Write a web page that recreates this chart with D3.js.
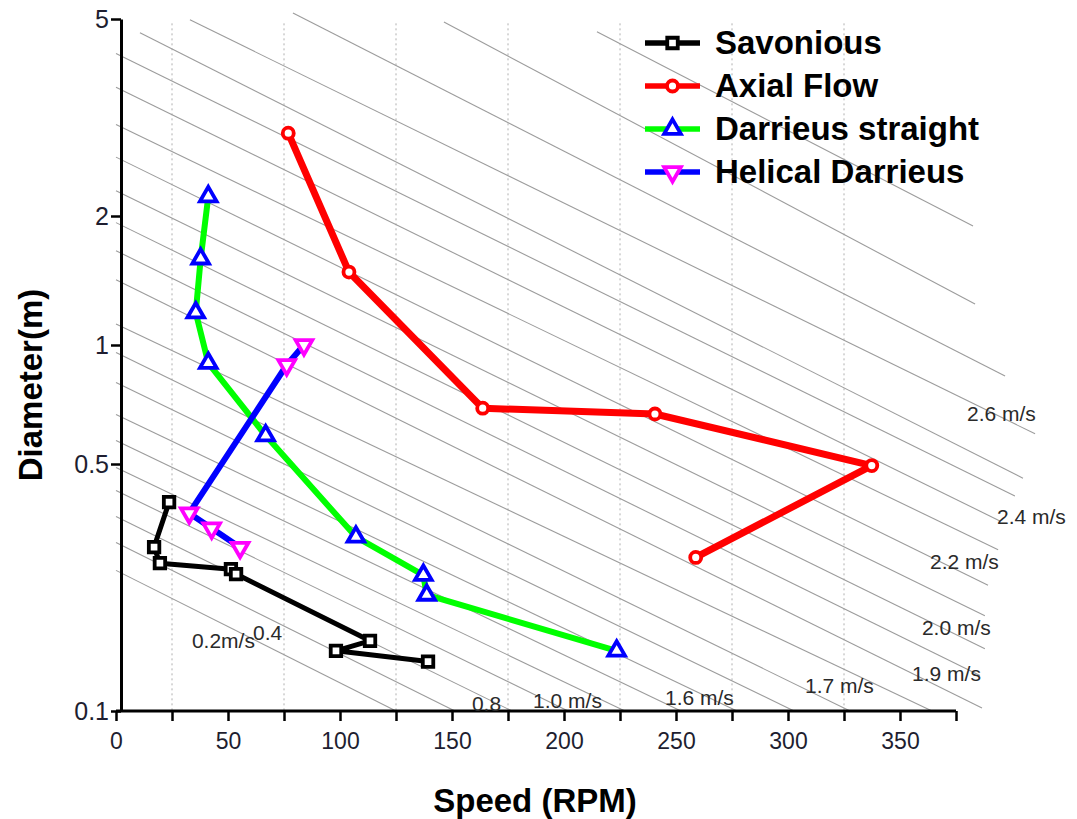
<!DOCTYPE html>
<html>
<head>
<meta charset="utf-8">
<script src="https://cdn.jsdelivr.net/npm/d3@7"></script>
<style>
body { margin: 0; background: #fff; }
text { font-family: "Liberation Sans", Arial, sans-serif; }
</style>
</head>
<body>
<div id="chart"></div>
<script>
// values: speed in RPM, diameter in m
var savRpm = [23.7, 17.0, 19.6, 51.3, 53.6, 113.4, 98.2, 139.3];
var savD   = [0.39, 0.291, 0.262, 0.252, 0.244, 0.158, 0.148, 0.138];

var axRpm = [76.9, 104.0, 163.7, 240.6, 337.4, 258.8];
var axD   = [2.94, 1.48, 0.692, 0.669, 0.495, 0.272];

var darRpm = [41.2, 37.8, 35.6, 41.2, 66.8, 107.1, 137.2, 138.7, 223.5];
var darD   = [2.19, 1.59, 1.19, 0.90, 0.59, 0.311, 0.2425, 0.213, 0.148];

var helRpm = [83.9, 76.2, 32.7, 42.7, 55.4];
var helD   = [1.0, 0.89, 0.363, 0.329, 0.29];

var seriesNames = ['Savonious', 'Axial Flow', 'Darrieus straight', 'Helical Darrieus'];

// background tip-speed guide lines: start [rpm, D] and end [rpm, D]
var guideFrom = [
    [10.7, 4.69], [33, 4.98], [79, 5.14], [146.4, 4.93], [214.7, 4.71],
    [0, 4.26], [0, 3.64], [0, 3.06], [0, 2.63], [0, 2.25], [0, 1.93],
    [0, 1.66], [0, 1.42], [0, 1.12], [0, 0.957], [0, 0.804], [0, 0.667],
    [0, 0.573], [0, 0.489], [0, 0.421], [0, 0.355], [0, 0.300], [0, 0.250]
];
var guideTo = [
    [404.9, 0.456], [410.3, 0.596], [396.9, 0.835], [383.5, 1.246], [382.6, 1.895],
    [401.3, 0.406], [394.6, 0.345], [393.8, 0.286], [389.3, 0.227], [387.9, 0.186], [387.9, 0.150],
    [385.7, 0.126], [386.6, 0.102], [364.3, 0.1], [327.7, 0.1], [302.7, 0.1], [277.2, 0.1],
    [252.2, 0.1], [227.2, 0.1], [201.8, 0.1], [176.8, 0.1], [151.3, 0.1], [125, 0.1]
];

var speedLabels = ['2.6 m/s', '2.4 m/s', '2.2 m/s', '2.0 m/s', '1.9 m/s', '1.7 m/s',
                   '1.6 m/s', '1.0 m/s', '0.8', '0.4', '0.2m/s'];
var speedLabelRpm = [379.9, 393.3, 363.4, 359.8, 355.4, 307.6, 245.1, 186.2, 158.9, 61.2, 33.9];
var speedLabelD   = [0.642, 0.338, 0.252, 0.164, 0.1216, 0.1124, 0.104, 0.102, 0.1, 0.159, 0.151];

var xTicks = d3.range(0, 376, 25);
var yTicks = [0.1, 0.5, 1, 2, 5];
var gridRpm = [25, 75, 125, 175, 225, 275, 325];

var width = 1077;
var height = 819;

var x = d3.scaleLinear().domain([0, 375]).range([116, 956]);
// the source y axis is log-like but its decades are not evenly spaced,
// so each labelled tick is pinned (piecewise log scale)
var y = d3.scaleLog().domain(yTicks).range([711, 464, 345, 216, 19]);

var svg = d3.select('#chart')
    .append('svg')
    .attr('width', width)
    .attr('height', height);

// dotted vertical grid
svg.append('g')
    .selectAll('line')
    .data(gridRpm)
    .enter()
    .append('line')
    .attr('x1', function(d){ return x(d); })
    .attr('x2', function(d){ return x(d); })
    .attr('y1', y(4.9))
    .attr('y2', y(0.1))
    .attr('stroke', '#b0b0b0')
    .attr('stroke-width', 1)
    .attr('stroke-dasharray', '2,3');

// diagonal guide lines
svg.append('g')
    .selectAll('line')
    .data(guideFrom)
    .enter()
    .append('line')
    .attr('x1', function(d){ return x(d[0]); })
    .attr('y1', function(d){ return y(d[1]); })
    .attr('x2', function(d, i){ return x(guideTo[i][0]); })
    .attr('y2', function(d, i){ return y(guideTo[i][1]); })
    .attr('stroke', '#9c9c9c')
    .attr('stroke-width', 1.1);

// axes
var axisX = x(0) + 5;

var yAxis = svg.append('g')
    .attr('transform', 'translate(' + axisX + ',0)')
    .call(d3.axisLeft(y).tickValues(yTicks).tickFormat(d3.format('')).tickSize(10).tickSizeOuter(0).tickPadding(3));

var xAxis = svg.append('g')
    .attr('transform', 'translate(0,' + y(0.1) + ')')
    .call(d3.axisBottom(x).tickValues(xTicks)
        .tickFormat(function(d){ return d % 50 === 0 ? d : ''; })
        .tickSize(10).tickSizeOuter(0).tickPadding(12));

[xAxis, yAxis].forEach(function(a){
    a.select('.domain').attr('stroke', '#000').attr('stroke-width', 3);
    a.selectAll('.tick line').attr('stroke', '#000').attr('stroke-width', 2.5);
    a.selectAll('.tick text').attr('fill', '#1e1e30');
});
xAxis.selectAll('.tick text').style('font-size', '23px');
yAxis.selectAll('.tick text').style('font-size', '25px').attr('x', -12);
xAxis.select('.domain').attr('d', 'M' + x(0) + ',0H' + x(375));

// speed labels
svg.append('g')
    .selectAll('text')
    .data(speedLabels)
    .enter()
    .append('text')
    .attr('x', function(d, i){ return x(speedLabelRpm[i]); })
    .attr('y', function(d, i){ return y(speedLabelD[i]); })
    .attr('fill', '#2a2a2a')
    .style('font-size', '21px')
    .text(function(d){ return d; });

// series
var series = [
    {rpm: savRpm, d: savD, line: '#000000', lw: 5, mark: '#000000', sym: d3.symbolSquare, size: 110, rot: 0},
    {rpm: axRpm, d: axD, line: '#ff0000', lw: 7, mark: '#ff0000', sym: d3.symbolCircle, size: 95, rot: 0},
    {rpm: darRpm, d: darD, line: '#00ff00', lw: 6, mark: '#0000ff', sym: d3.symbolTriangle, size: 120, rot: 0},
    {rpm: helRpm, d: helD, line: '#0000ff', lw: 6, mark: '#ff00ff', sym: d3.symbolTriangle, size: 120, rot: 180}
];

var line = d3.line()
    .x(function(p){ return x(p[0]); })
    .y(function(p){ return y(p[1]); });

series.forEach(function(s){
    var pts = s.rpm.map(function(r, i){ return [r, s.d[i]]; });
    svg.append('path')
        .attr('d', line(pts))
        .attr('fill', 'none')
        .attr('stroke', s.line)
        .attr('stroke-width', s.lw)
        .attr('stroke-linejoin', 'round');
    svg.append('g')
        .selectAll('path')
        .data(pts)
        .enter()
        .append('path')
        .attr('d', d3.symbol().type(s.sym).size(s.size))
        .attr('transform', function(p){ return 'translate(' + x(p[0]) + ',' + y(p[1]) + ') rotate(' + s.rot + ')'; })
        .attr('fill', '#fff')
        .attr('stroke', s.mark)
        .attr('stroke-width', 3.8);
});

// legend
var legend = svg.append('g').attr('transform', 'translate(645,43)');
series.forEach(function(s, i){
    var row = legend.append('g').attr('transform', 'translate(0,' + (i * 43) + ')');
    row.append('line')
        .attr('x1', 0).attr('x2', 55)
        .attr('stroke', s.line)
        .attr('stroke-width', 5.5);
    row.append('path')
        .attr('d', d3.symbol().type(s.sym).size(s.size))
        .attr('transform', 'translate(27.5,0) rotate(' + s.rot + ')')
        .attr('fill', '#fff')
        .attr('stroke', s.mark)
        .attr('stroke-width', 3.8);
    row.append('text')
        .attr('x', 70)
        .attr('dy', '0.33em')
        .style('font-size', '33px')
        .style('font-weight', 'bold')
        .text(seriesNames[i]);
});

// axis titles
svg.append('text')
    .attr('x', 535)
    .attr('y', 812)
    .attr('text-anchor', 'middle')
    .style('font-size', '33px')
    .style('font-weight', 'bold')
    .text('Speed (RPM)');

svg.append('text')
    .attr('transform', 'translate(42,385) rotate(-90)')
    .attr('text-anchor', 'middle')
    .style('font-size', '33px')
    .style('font-weight', 'bold')
    .text('Diameter(m)');
</script>
</body>
</html>
